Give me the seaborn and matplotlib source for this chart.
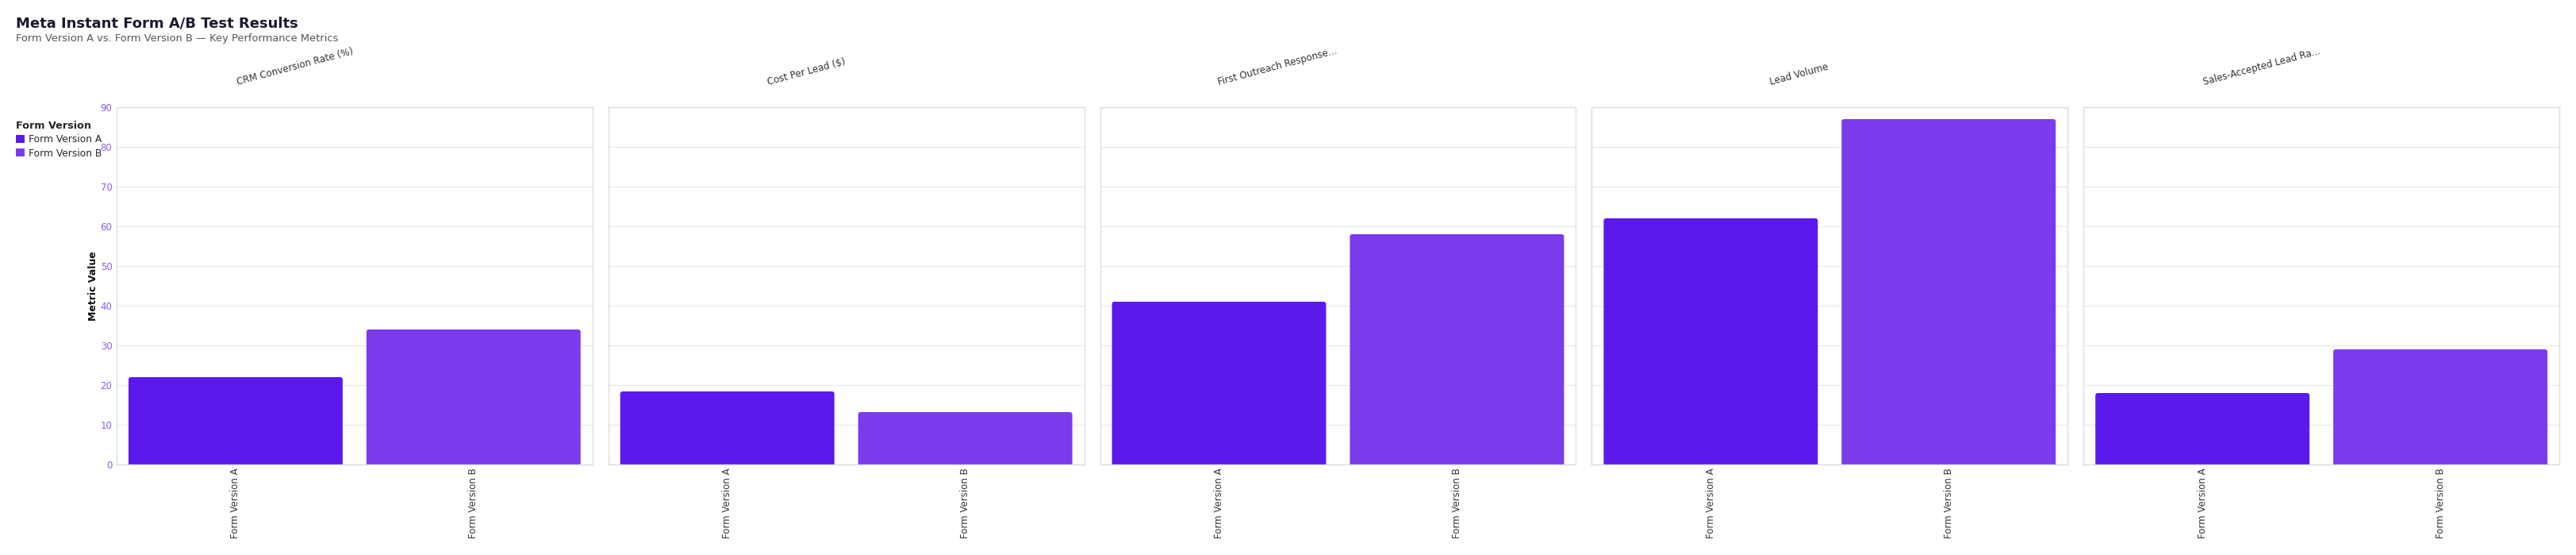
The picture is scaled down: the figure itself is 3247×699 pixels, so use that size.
import matplotlib
matplotlib.use("Agg")
import matplotlib.pyplot as plt
import seaborn as sns
import pandas as pd
from matplotlib.patches import Patch, FancyBboxPatch

# ---- data ----
metrics = ["CRM Conversion Rate (%)", "Cost Per Lead ($)", "First Outreach Response...",
           "Lead Volume", "Sales-Accepted Lead Ra..."]
versions = ["Form Version A", "Form Version B"]
values_a = [22, 18.4, 41, 62, 18]
values_b = [34, 13.2, 58, 87, 29]
y_ticks = [0, 10, 20, 30, 40, 50, 60, 70, 80, 90]

colors = {"Form Version A": "#5c19eb", "Form Version B": "#7c3aed"}

rows = []
for m, a, b in zip(metrics, values_a, values_b):
    rows.append({"metric": m, "version": versions[0], "value": a})
    rows.append({"metric": m, "version": versions[1], "value": b})
df = pd.DataFrame(rows)

sns.set_theme(style="white")
plt.rcParams["font.family"] = ["DejaVu Sans"]

W, H = 3247, 699
fig, axes = plt.subplots(1, 5, figsize=(W / 100, H / 100), dpi=100, sharey=True)
fig.subplots_adjust(left=147/W, right=3226/W, top=1-135/H, bottom=1-585/H, wspace=0.0333)

for i, (ax, m) in enumerate(zip(axes, metrics)):
    sub = df[df["metric"] == m]
    sns.barplot(data=sub, x="version", y="value", hue="version", order=versions,
                hue_order=versions, palette=colors, width=0.9, legend=False,
                ax=ax, linewidth=0, saturation=1)
    ax.set_xlim(-0.5, 1.5)
    ax.set_ylim(0, 90)
    ax.set_yticks(y_ticks)
    ax.yaxis.grid(True, color="#ebebeb", linewidth=1)
    ax.xaxis.grid(False)
    ax.set_axisbelow(True)
    for s in ax.spines.values():
        s.set_visible(True)
        s.set_color("#dedede")
        s.set_linewidth(1)
    ax.tick_params(axis="x", length=0, pad=3, labelsize=8.5, labelcolor="#333333", rotation=90)
    ax.tick_params(axis="y", length=0, pad=4, labelsize=8.5, labelcolor="#8b5cf6")
    ax.set_xlabel("")
    if i == 0:
        ax.set_ylabel("Metric Value", fontsize=9, fontweight="bold", color="#111111", labelpad=2)
    else:
        ax.set_ylabel("")
    ax.annotate(m, xy=(0.5, 1.0), xycoords="axes fraction", xytext=(0, 18),
                textcoords="offset points", rotation=15, ha="right", va="bottom",
                fontsize=8.5, color="#333333")

# rounded top corners: redraw seaborn's bars as rounded boxes (bottom part clipped by axis)
fig.canvas.draw()
for ax in axes:
    bbox = ax.get_window_extent()
    xu_per_px = (ax.get_xlim()[1] - ax.get_xlim()[0]) / bbox.width
    yu_per_px = (ax.get_ylim()[1] - ax.get_ylim()[0]) / bbox.height
    r_px = 3
    for p in list(ax.patches):
        x0, y0 = p.get_x(), p.get_y()
        w, h = p.get_width(), p.get_height()
        ext = r_px * 2 * yu_per_px
        fb = FancyBboxPatch((x0, y0 - ext), w, h + ext,
                            boxstyle=f"round,pad=0,rounding_size={r_px * xu_per_px}",
                            mutation_aspect=yu_per_px / xu_per_px,
                            facecolor=p.get_facecolor(), edgecolor="none", linewidth=0,
                            zorder=p.get_zorder(), clip_on=True)
        p.remove()
        ax.add_patch(fb)

fig.text(20/W, 1-35/H, "Meta Instant Form A/B Test Results", fontsize=13,
         fontweight="bold", color="#1a1a2e", va="baseline", ha="left")
fig.text(20/W, 1-52/H, "Form Version A vs. Form Version B \u2014 Key Performance Metrics",
         fontsize=9.4, color="#555555", va="baseline", ha="left")

handles = [Patch(facecolor=colors[v], edgecolor="none", label=v) for v in versions]
leg = fig.legend(handles=handles, loc="upper left", bbox_to_anchor=(20/W, 1-152/H),
                 frameon=False, title="Form Version", fontsize=8.8,
                 title_fontproperties={"weight": "bold", "size": 9.2},
                 handlelength=0.9, handleheight=0.9, handletextpad=0.45,
                 labelspacing=0.35, borderpad=0, borderaxespad=0, alignment="left")

fig.savefig("out.png", dpi=100, facecolor="white")
